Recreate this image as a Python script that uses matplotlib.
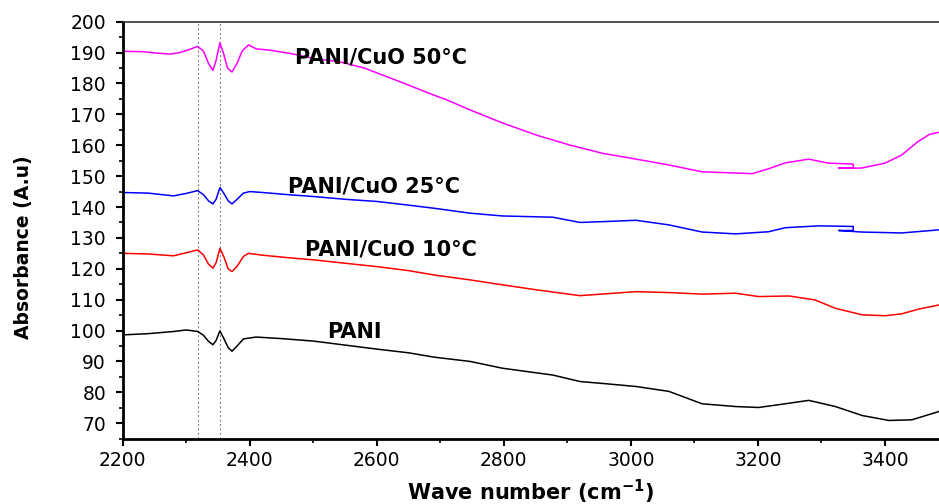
import matplotlib.pyplot as plt
from matplotlib.ticker import MultipleLocator

# PANI/CuO 50°C (magenta)
x50 = [2200, 2230, 2255, 2275, 2290, 2305, 2318, 2327, 2335, 2342, 2347, 2353, 2359, 2365,
       2372, 2380, 2388, 2398, 2410, 2430, 2450, 2474, 2500, 2542, 2580, 2636, 2690, 2710,
       2747, 2798, 2851, 2903, 2955, 3008, 3060, 3112, 3165, 3191, 3217, 3243, 3280, 3311,
       3350, 3350, 3327, 3363, 3400, 3426, 3452, 3470, 3485]
y50 = [190.4, 190.3, 189.8, 189.5, 190.0, 191.0, 192.0, 190.5, 186.5, 184.2, 187.5, 193.2, 189.5, 185.0,
       183.7, 186.5, 190.5, 192.5, 191.2, 190.8, 190.2, 189.3, 188.1, 187.0, 185.0, 180.6, 176.2, 174.7,
       171.4, 167.2, 163.3, 160.1, 157.4, 155.5, 153.6, 151.4, 151.0, 150.8, 152.4, 154.3, 155.5, 154.2,
       153.9, 152.6, 152.6, 152.6, 154.2, 156.8, 161.2, 163.5, 164.2]

# PANI/CuO 25°C (blue)
x25 = [2200, 2240, 2280, 2300, 2318, 2327, 2335, 2342, 2347, 2353, 2359, 2366, 2372, 2380,
       2390, 2400, 2420, 2460, 2500, 2550, 2600, 2650, 2690, 2747, 2798, 2877, 2920, 2960,
       3008, 3060, 3112, 3165, 3217, 3243, 3296, 3350, 3350, 3327, 3363, 3426, 3485]
y25 = [144.7, 144.5, 143.6, 144.4, 145.3, 144.0, 142.0, 141.0, 142.5, 146.3, 144.5, 142.0, 141.0, 142.5,
       144.5, 145.0, 144.7, 144.0, 143.4, 142.5, 141.8, 140.6, 139.6, 138.0, 137.1, 136.7, 135.0, 135.3,
       135.7, 134.2, 131.9, 131.3, 132.0, 133.3, 133.9, 133.7, 132.4, 132.4, 131.9, 131.6, 132.6]

# PANI/CuO 10°C (red)
x10 = [2200, 2240, 2280, 2300, 2318, 2327, 2335, 2342, 2347, 2353, 2359, 2366, 2372, 2380,
       2390, 2398, 2420, 2460, 2500, 2550, 2600, 2650, 2690, 2747, 2798, 2851, 2920, 2960,
       3008, 3060, 3112, 3165, 3201, 3249, 3290, 3322, 3364, 3400, 3426, 3452, 3485]
y10 = [125.0, 124.8, 124.2, 125.2, 126.1, 124.5, 121.5, 120.2, 122.0, 126.6, 124.0, 120.0, 119.1, 120.8,
       124.0, 125.0, 124.4, 123.6, 122.9, 121.8, 120.7, 119.4, 118.0, 116.4, 114.8, 113.2, 111.3, 111.9,
       112.6, 112.3, 111.8, 112.1, 111.0, 111.2, 109.9, 107.2, 105.1, 104.8, 105.4, 106.9, 108.3]

# PANI (black)
xp = [2200, 2240, 2280, 2300, 2318, 2327, 2335, 2342, 2347, 2353, 2359, 2366, 2372, 2380,
      2390, 2410, 2450, 2500, 2550, 2600, 2650, 2690, 2747, 2798, 2877, 2920, 2960, 3008,
      3060, 3112, 3165, 3201, 3243, 3280, 3322, 3364, 3406, 3442, 3485]
yp = [98.6, 99.0, 99.7, 100.2, 99.7, 98.5, 96.5, 95.4, 96.8, 99.9, 97.5, 94.5, 93.3, 95.0,
      97.3, 97.9, 97.4, 96.6, 95.3, 94.0, 92.8, 91.4, 90.0, 87.8, 85.6, 83.5, 82.8, 81.9,
      80.3, 76.3, 75.4, 75.1, 76.3, 77.4, 75.4, 72.5, 70.9, 71.1, 73.8]

ref_lines = [2318, 2353]
labels = ['PANI/CuO 50°C', 'PANI/CuO 25°C', 'PANI/CuO 10°C', 'PANI']
label_pos = [(2471, 188.3), (2460, 146.5), (2487, 126.1), (2521, 99.6)]

plt.rcParams['font.family'] = 'DejaVu Sans'

fig = plt.figure(figsize=(9.39, 5.04), dpi=100)
ax = fig.add_axes([0.1307, 0.1296, 0.8693, 0.8274])

for xv in ref_lines:
    ax.axvline(xv, color='#888888', lw=0.8, ls=(0, (2, 2)), zorder=1)

ax.plot(x50, y50, color='#ff00ff', lw=1.1)
ax.plot(x25, y25, color='#0000ff', lw=1.1)
ax.plot(x10, y10, color='#ff0000', lw=1.1)
ax.plot(xp, yp, color='#000000', lw=1.1)

for txt, (tx, ty) in zip(labels, label_pos):
    ax.text(tx, ty, txt, fontsize=15, fontweight='bold', ha='left', va='center')

ax.set_xlim(2200, 3485)
ax.set_ylim(65, 200)
ax.xaxis.set_major_locator(MultipleLocator(200))
ax.xaxis.set_minor_locator(MultipleLocator(100))
ax.yaxis.set_minor_locator(MultipleLocator(5))
ax.set_yticks(range(70, 201, 10))
ax.tick_params(which='major', direction='out', length=5, width=1.5, labelsize=13.5)
ax.tick_params(which='minor', direction='out', length=3, width=1.2)
ax.tick_params(axis='x', pad=4)
ax.tick_params(axis='y', pad=7)

ax.spines['left'].set_linewidth(2)
ax.spines['bottom'].set_linewidth(2)
ax.spines['top'].set_linewidth(1.2)
ax.spines['top'].set_color('#333333')
ax.spines['right'].set_visible(False)

ax.set_ylabel('Absorbance (A.u)', fontsize=13.5, fontweight='bold')
ax.yaxis.set_label_coords(-0.11, 0.46)
ax.set_xlabel('Wave number (cm$^{\\mathbf{-1}}$)', fontsize=15, fontweight='bold')
ax.xaxis.set_label_coords(0.5, -0.093)

fig.savefig('out.png', dpi=100)
